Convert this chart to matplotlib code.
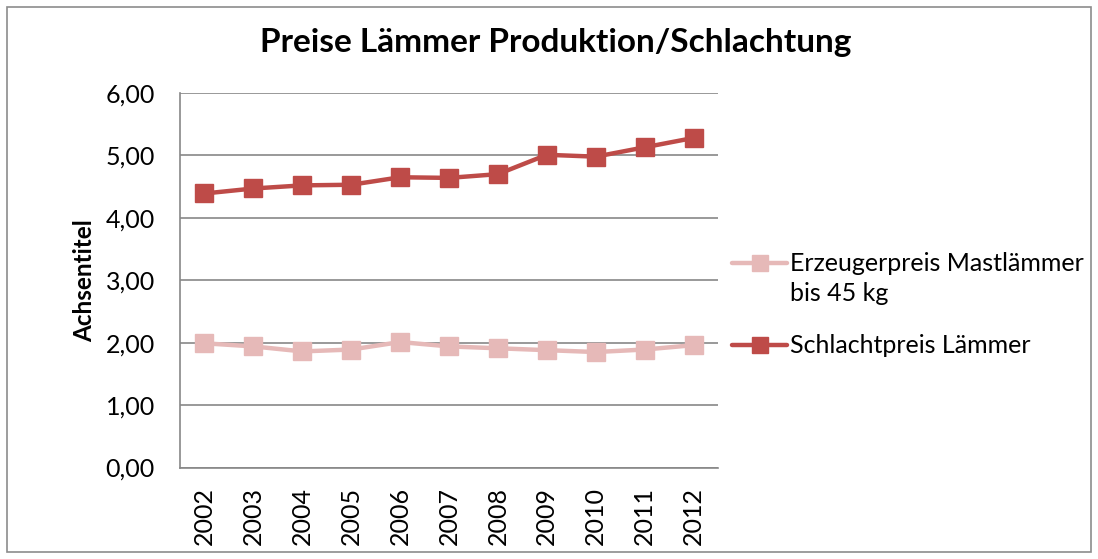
import matplotlib
matplotlib.use('Agg')
import matplotlib.pyplot as plt
from matplotlib.patches import Rectangle
from matplotlib.lines import Line2D

plt.rcParams['font.family'] = ['Lato', 'DejaVu Sans']

# Data
years = ['2002', '2003', '2004', '2005', '2006', '2007',
         '2008', '2009', '2010', '2011', '2012']
erzeugerpreis = [1.99, 1.94, 1.86, 1.89, 2.01, 1.94, 1.91, 1.88, 1.85, 1.89, 1.96]
schlachtpreis = [4.39, 4.47, 4.52, 4.53, 4.65, 4.64, 4.70, 5.01, 4.98, 5.13, 5.28]
y_ticks = [0, 1, 2, 3, 4, 5, 6]
series_names = ['Erzeugerpreis Mastlämmer\nbis 45 kg', 'Schlachtpreis Lämmer']

PINK = '#E6B9B8'
RED = '#BE4B48'
GRID = '#878787'

W, H = 1098, 559
fig = plt.figure(figsize=(W / 100, H / 100), dpi=100)
ax = fig.add_axes([180 / W, 1 - 467.5 / H, (718 - 180) / W, (467.5 - 93) / H])

# outer chart border
fig.patches.append(Rectangle((7 / W, 7 / H), (1091 - 7) / W, (552 - 7) / H,
                             transform=fig.transFigure, fill=False,
                             edgecolor='#8c8c8c', linewidth=1.2))

x = list(range(len(years)))
style = dict(linewidth=3.2, marker='s', markersize=13, solid_capstyle='round', zorder=3)
ax.plot(x, erzeugerpreis, color=PINK, **style)
ax.plot(x, schlachtpreis, color=RED, **style)

ax.set_xlim(-0.5, len(years) - 0.5)
ax.set_ylim(0, 6)
ax.set_yticks(y_ticks)
ax.set_yticklabels([f'{v:.2f}'.replace('.', ',') for v in y_ticks], fontsize=18)
ax.set_xticks(x)
ax.set_xticklabels(years, rotation=90, fontsize=18)
ax.tick_params(axis='both', length=0)
ax.tick_params(axis='y', pad=18)
ax.tick_params(axis='x', pad=14)

ax.grid(True, axis='y', color=GRID, linewidth=1.2)
ax.set_axisbelow(True)
for s in ['top', 'right']:
    ax.spines[s].set_visible(False)
for s in ['left', 'bottom']:
    ax.spines[s].set_color(GRID)
    ax.spines[s].set_linewidth(1.2)

ax.set_ylabel('Achsentitel', fontsize=17.5, fontweight='bold')
ax.yaxis.set_label_coords(-0.155, 0.5)

fig.text(556 / W, 1 - 52 / H, 'Preise Lämmer Produktion/Schlachtung',
         ha='center', va='baseline', fontsize=24, fontweight='bold')

# legend, handle aligned with the first line of each label
for color, name, y_px in zip([PINK, RED], series_names, [263, 345]):
    yf = 1 - y_px / H
    fig.add_artist(Line2D([732 / W, 787 / W], [yf, yf], transform=fig.transFigure,
                          color=color, linewidth=3.2, solid_capstyle='round'))
    fig.add_artist(Line2D([759.5 / W], [yf], transform=fig.transFigure,
                          color=color, marker='s', markersize=11, linestyle='none'))
    fig.text(790 / W, 1 - (y_px - 11) / H, name, ha='left', va='top',
             fontsize=18, linespacing=1.35)

plt.savefig('out.png', dpi=100)
plt.close()
